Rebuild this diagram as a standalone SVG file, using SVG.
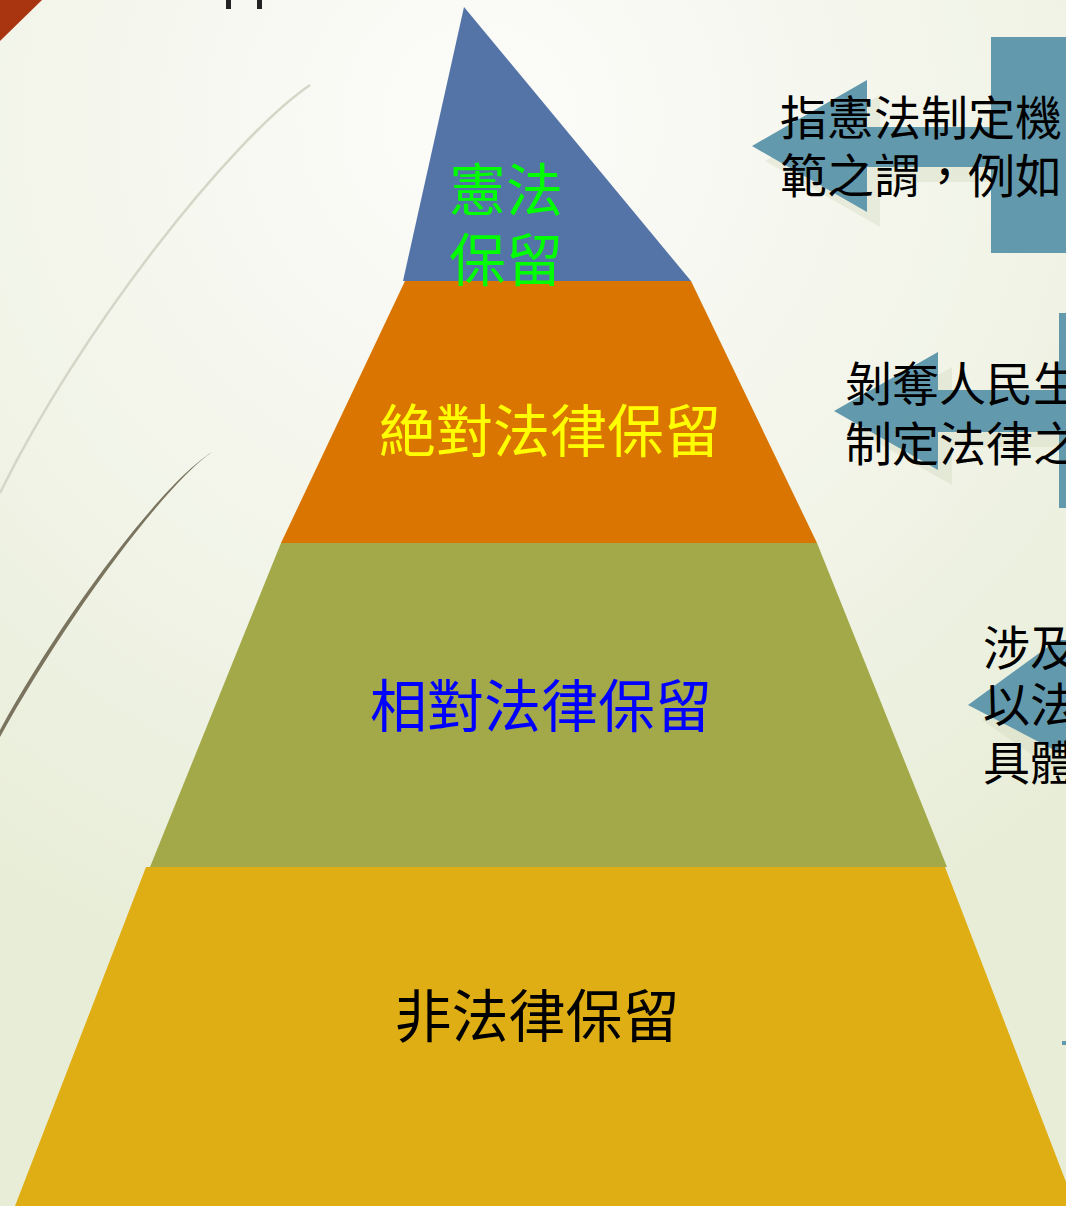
<svg xmlns="http://www.w3.org/2000/svg" width="1066" height="1206" viewBox="0 0 1066 1206">
  <defs>
    <radialGradient id="bg" cx="480" cy="120" r="900" gradientUnits="userSpaceOnUse">
      <stop offset="0" stop-color="#FCFCFA"/>
      <stop offset="0.45" stop-color="#F4F6EC"/>
      <stop offset="1" stop-color="#E8EDD8"/>
    </radialGradient>
  </defs>
  <style>
    .lbl { font-family: "Noto Sans CJK TC", "Noto Sans CJK SC", sans-serif; font-size: 57px; text-anchor: middle; }
    .note { font-family: "Noto Sans CJK TC", "Noto Sans CJK SC", sans-serif; font-size: 47px; fill: #000000; }
    .arrow { fill: #6399AD; }
    .ghost { fill: #C9D1B2; opacity: 0.3; }
  </style>

  <rect x="0" y="0" width="1066" height="1206" fill="url(#bg)"/>

  <!-- decorative -->
  <g id="decor">
    <polygon points="0,0 42,0 0,41" fill="#A93410"/>
    <rect x="226" y="0" width="5" height="9" fill="#222222"/>
    <rect x="257" y="0" width="5" height="9" fill="#222222"/>
    <path d="M310,85 C230,140 80,330 0,493" fill="none" stroke="#D4D7C7" stroke-width="2.5"/>
    <path d="M212,452 C160,485 60,620 0,730 L0,737 C62,625 162,487 212,452 Z" fill="#7A745F"/>
    <rect x="1062" y="1041" width="4" height="4" fill="#6399AD"/>
  </g>

  <!-- pyramid -->
  <g id="level-constitution">
    <polygon points="464,7 403,281 691,281" fill="#5474A8"/>
  </g>
  <g id="level-absolute">
    <polygon points="405,281 691,281 817,543 281,543" fill="#D97500"/>
  </g>
  <g id="level-relative">
    <polygon points="281,543 817,543 947,867 150,867" fill="#A3A948"/>
  </g>
  <g id="level-non">
    <polygon points="146,867 945,867 1066,1182 1066,1206 15,1206" fill="#DFAE15"/>
  </g>

  <g id="labels">
    <text class="lbl" x="506" y="211" fill="#00FF00">憲法</text>
    <text class="lbl" x="506" y="281" fill="#00FF00">保留</text>
    <text class="lbl" x="550" y="452" fill="#FFFF00">絶對法律保留</text>
    <text class="lbl" x="541" y="727" fill="#0000FF">相對法律保留</text>
    <text class="lbl" x="537" y="1037" fill="#000000">非法律保留</text>
  </g>

  <!-- connectors (arrows) -->
  <g id="connectors">
    <polygon class="ghost" points="765,161 880,95 880,142 1066,142 1066,182 880,182 880,227"/>
    <polygon class="ghost" points="848,426 952,367 952,405 1066,405 1066,447 952,447 952,485"/>
    <polygon class="ghost" points="982,720 1066,662 1066,778"/>
    <rect class="arrow" x="991" y="37" width="75" height="216"/>
    <polygon class="arrow" points="752,146 867,80 867,127 1066,127 1066,167 867,167 867,212"/>
    <rect class="arrow" x="1059" y="313" width="7" height="195"/>
    <polygon class="arrow" points="834,411 938,352 938,390 1066,390 1066,432 938,432 938,470"/>
    <polygon class="arrow" points="968,705 1060,638 1060,640 1066,640 1066,747 1060,747 1060,753"/>
  </g>

  <g id="note-1">
    <text class="note" x="780" y="135">指憲法制定機</text>
    <text class="note" x="780" y="193">範之謂，例如</text>
  </g>
  <g id="note-2">
    <text class="note" x="845" y="401">剝奪人民生</text>
    <text class="note" x="845" y="461">制定法律之</text>
  </g>
  <g id="note-3">
    <text class="note" x="983" y="665">涉及</text>
    <text class="note" x="983" y="722">以法</text>
    <text class="note" x="983" y="780">具體</text>
  </g>
</svg>
